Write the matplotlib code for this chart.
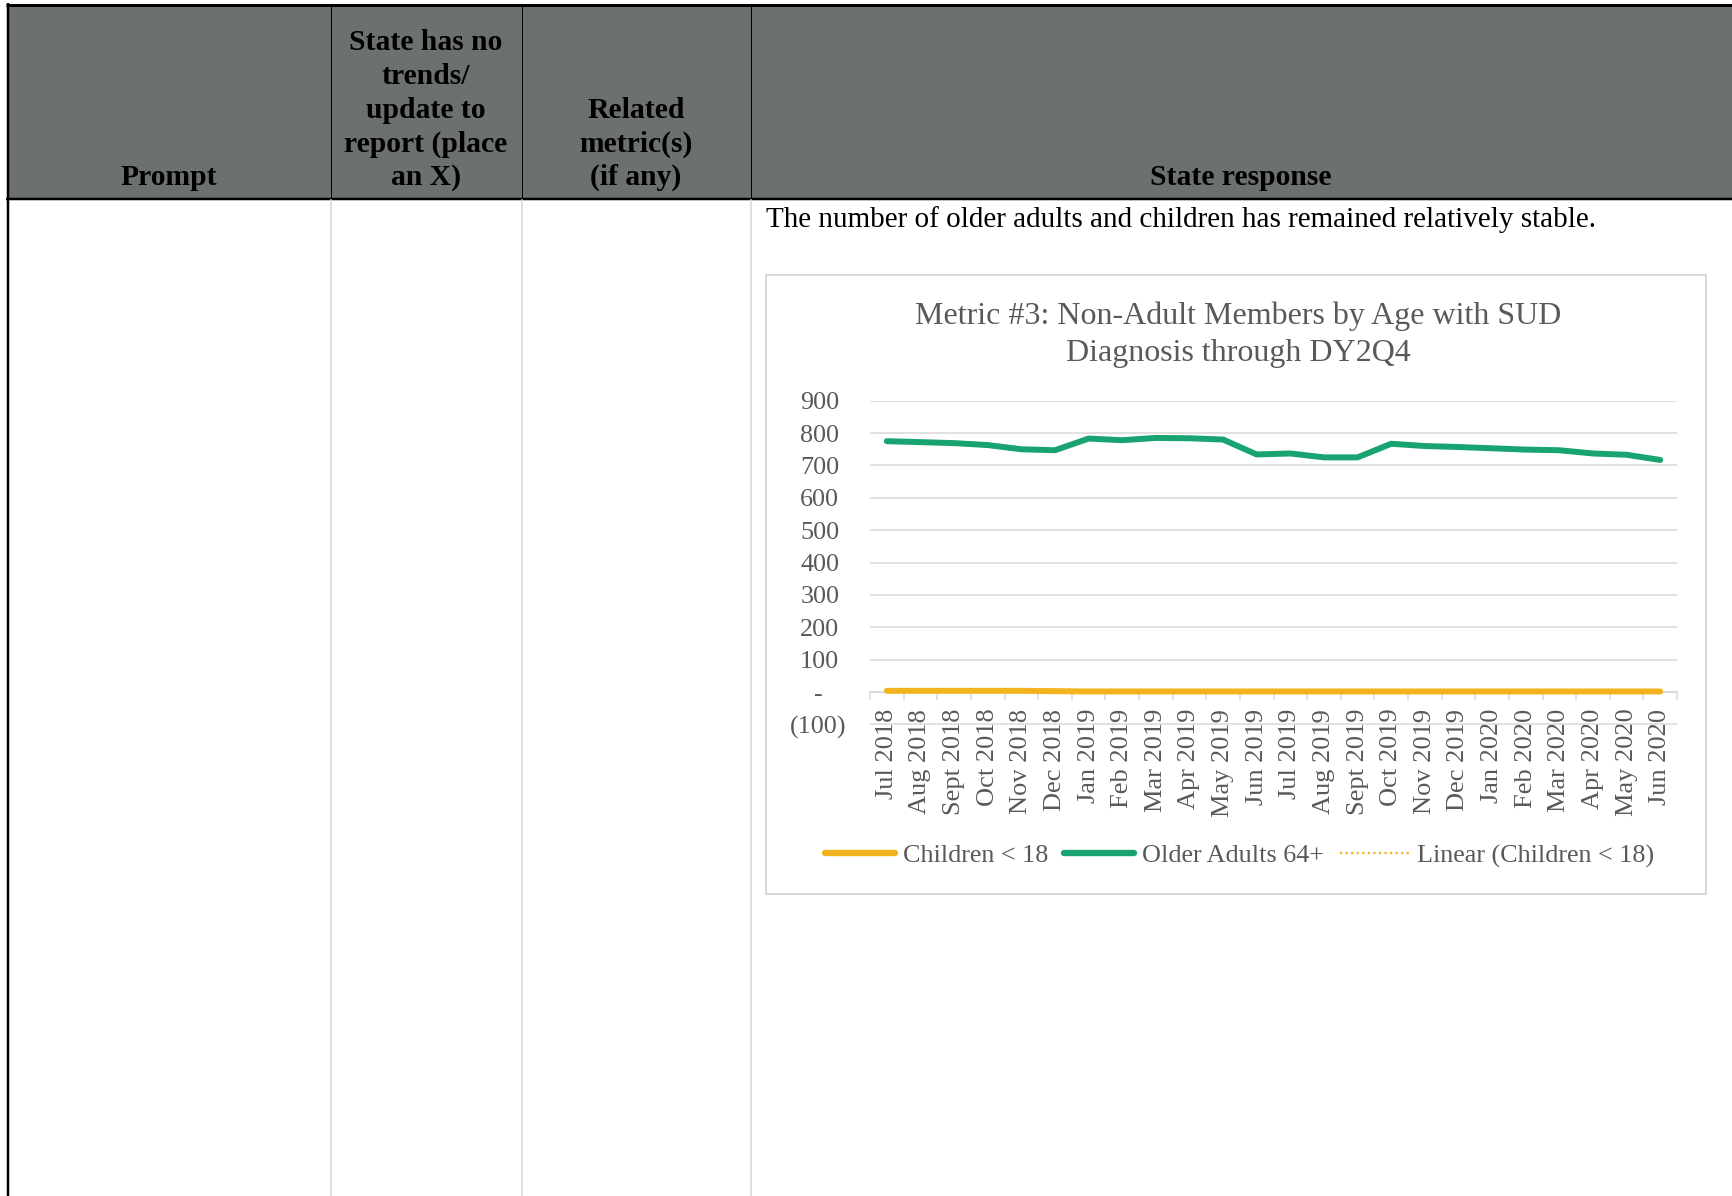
import numpy as np
import matplotlib
matplotlib.use("Agg")
import matplotlib.pyplot as plt
from matplotlib.lines import Line2D
from matplotlib.patches import Rectangle

plt.rcParams['font.family'] = ['Liberation Serif', 'DejaVu Serif']

W, H = 1732, 1196
PX = 0.72  # points per pixel at dpi=100

# ---- data ----
months = ["Jul 2018", "Aug 2018", "Sept 2018", "Oct 2018", "Nov 2018", "Dec 2018",
          "Jan 2019", "Feb 2019", "Mar 2019", "Apr 2019", "May 2019", "Jun 2019",
          "Jul 2019", "Aug 2019", "Sept 2019", "Oct 2019", "Nov 2019", "Dec 2019",
          "Jan 2020", "Feb 2020", "Mar 2020", "Apr 2020", "May 2020", "Jun 2020"]
older_adults = [775, 772, 769, 763, 750, 747, 783, 778, 785, 784, 780, 734,
                737, 725, 725, 767, 760, 757, 753, 749, 747, 737, 733, 717]
children = [4, 4, 4, 4, 4, 3, 2, 2, 2, 2, 2, 2,
            2, 2, 2, 2, 2, 2, 2, 2, 2, 2, 2, 2]
y_ticks = list(range(-100, 1000, 100))

series_names = ["Children < 18", "Older Adults 64+", "Linear (Children < 18)"]
title = "Metric #3: Non-Adult Members by Age with SUD\nDiagnosis through DY2Q4"
response = "The number of older adults and children has remained relatively stable."

# table header: (column centre, lines)
header_cells = [
    (169, ["Prompt"]),
    (426, ["State has no", "trends/", "update to", "report (place", "an X)"]),
    (636, ["Related", "metric(s)", "(if any)"]),
    (1241, ["State response"]),
]
col_lines = [331, 522, 751]

YELLOW = '#f2b31f'
GREEN = '#18a370'
GRID = '#d9d9d9'
TXT = '#595959'

fig = plt.figure(figsize=(W / 100, H / 100), dpi=100)

# background axes in pixel coords for the table
bg = fig.add_axes([0, 0, 1, 1])
bg.set_xlim(0, W)
bg.set_ylim(H, 0)
bg.axis('off')

bg.add_patch(Rectangle((8, 5), W - 8, 193, facecolor='#6c7070', edgecolor='none'))
bg.plot([6, W], [4.5, 4.5], color='black', lw=3 * PX, solid_capstyle='butt')
bg.plot([7.5, 7.5], [3, H], color='black', lw=2.5 * PX, solid_capstyle='butt')
bg.plot([6, W], [198.5, 198.5], color='black', lw=2.5 * PX, solid_capstyle='butt')
for x in col_lines:
    bg.plot([x, x], [5, 198], color='black', lw=1 * PX)
    bg.plot([x, x], [200, H], color='#d6d9dd', lw=1.6 * PX)

for cx, lines in header_cells:
    n = len(lines)
    for k, s in enumerate(lines):
        yb = 185 - (n - 1 - k) * 33.7
        bg.text(cx, yb, s, ha='center', va='baseline', fontsize=21.3,
                fontweight='bold', color='black')

bg.text(766, 227, response, ha='left', va='baseline', fontsize=21, color='black')

# chart frame
bg.add_patch(Rectangle((765.5, 274.5), 940.5, 619, facecolor='white',
                       edgecolor=GRID, lw=2 * PX))

for k, line in enumerate(title.split("\n")):
    fig.text(1238 / W, 1 - (316.5 + 37 * k) / H, line, ha='center', va='center',
             fontsize=23, color=TXT)

# plot area
top, bottom = 400.7, 724.5
ax = fig.add_axes([870 / W, 1 - bottom / H, 807 / W, (bottom - top) / H])
ax.patch.set_alpha(0)
x = np.arange(len(months))

ax.plot(x, children, color=YELLOW, lw=4.3, solid_capstyle='round', zorder=3)
ax.plot(x, older_adults, color=GREEN, lw=4.3, solid_capstyle='round', zorder=3)
fit = np.polyfit(x, children, 1)
ax.plot(x, np.polyval(fit, x), color=YELLOW, lw=1.6, ls=(0, (1, 1.5)), zorder=4)

ax.set_xlim(-0.5, len(months) - 0.5)
ax.set_ylim(-100, 900)
ax.set_yticks(y_ticks)
ax.yaxis.grid(True, color=GRID, lw=1.1)
ax.set_axisbelow(True)
ax.tick_params(axis='y', length=0, labelleft=False)
for s in ['top', 'right', 'left']:
    ax.spines[s].set_visible(False)
ax.spines['bottom'].set_position(('data', 0))
ax.spines['bottom'].set_color(GRID)
ax.spines['bottom'].set_linewidth(1.1)

ax.set_xticks(np.arange(len(months) + 1) - 0.5)
ax.set_xticklabels([])
ax.tick_params(axis='x', which='major', length=5.8, width=1.1, color=GRID, direction='out')
ax.set_xticks(x, minor=True)
ax.set_xticklabels(months, minor=True, rotation=90, fontsize=19, color=TXT)
ax.tick_params(axis='x', which='minor', length=0, pad=11.9)


def acct(v):
    # Excel accounting style labels
    if v > 0:
        return f"{v:,}", -22.1
    if v == 0:
        return "-", -33.8
    return f"({-v:,})", -16.8


for v in y_ticks:
    lab, off = acct(v)
    ax.annotate(lab, xy=(0, v), xycoords=ax.get_yaxis_transform(),
                xytext=(off, 0), textcoords='offset points',
                ha='right', va='center_baseline', fontsize=18.8, color=TXT)

handles = [
    Line2D([], [], color=YELLOW, lw=4.6, solid_capstyle='round'),
    Line2D([], [], color=GREEN, lw=4.6, solid_capstyle='round'),
    Line2D([], [], color=YELLOW, lw=1.6, ls=(0, (1, 1.5))),
]
fig.legend(handles, series_names, loc='center', ncol=3, frameon=False,
           bbox_to_anchor=(1240 / W, 1 - 855.7 / H), fontsize=18.8,
           labelcolor=TXT, handlelength=2.68, handletextpad=0.3,
           columnspacing=0.6)

fig.savefig("out.png", dpi=100)
